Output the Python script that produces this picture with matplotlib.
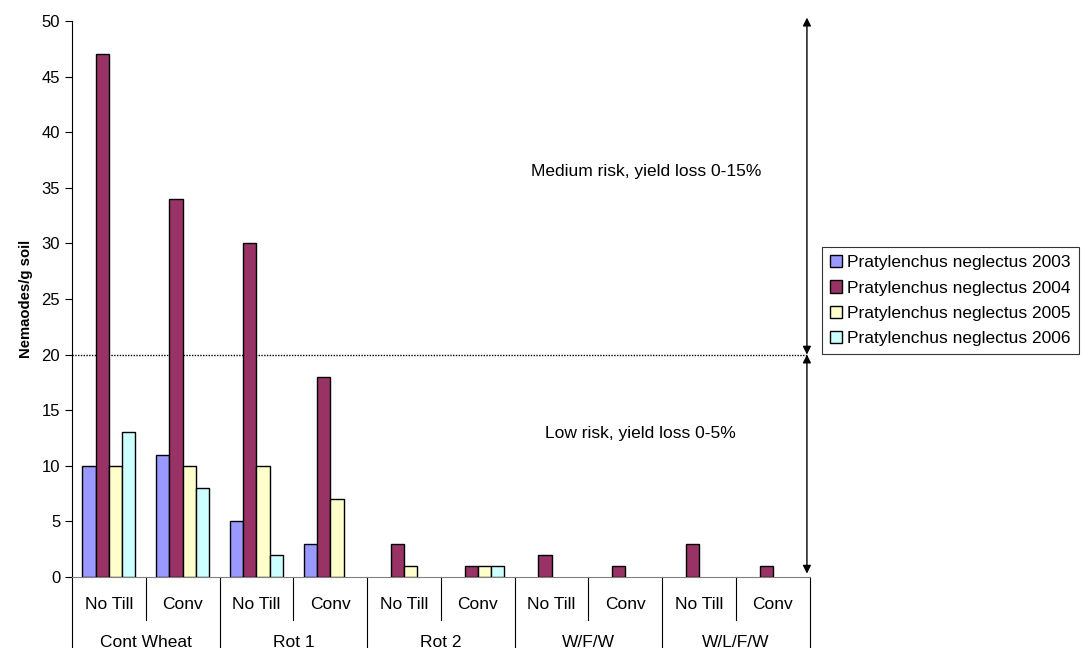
import numpy as np
import matplotlib.pyplot as plt
from matplotlib.transforms import blended_transform_factory

plt.rcParams['font.family'] = ['Liberation Sans', 'DejaVu Sans']

# nematode counts per tillage / rotation treatment
groups = ["Cont Wheat", "Rot 1", "Rot 2", "W/F/W", "W/L/F/W"]
tillage = ["No Till", "Conv"]
years = ["2003", "2004", "2005", "2006"]
pn_2003 = [10, 11, 5, 3, 0, 0, 0, 0, 0, 0]
pn_2004 = [47, 34, 30, 18, 3, 1, 2, 1, 3, 1]
pn_2005 = [10, 10, 10, 7, 1, 1, 0, 0, 0, 0]
pn_2006 = [13, 8, 2, 0, 0, 1, 0, 0, 0, 0]
series = [pn_2003, pn_2004, pn_2005, pn_2006]
colors = ["#9999FF", "#993366", "#FFFFCC", "#CCFFFF"]
threshold = 20

fig = plt.figure(figsize=(10.82, 6.48), dpi=100)
ax = fig.add_axes([0.0665, 0.1096, 0.682, 0.858])

n = len(pn_2004)
x = np.arange(n) + 0.5
w = 0.18
for i, (vals, c) in enumerate(zip(series, colors)):
    # zero counts get no bar outline
    h = np.array(vals, dtype=float)
    h[h == 0] = np.nan
    ax.bar(x + (i - 1.5) * w, h, w, color=c, edgecolor="black", linewidth=1.0,
           label="Pratylenchus neglectus " + years[i], zorder=3)

ax.set_xlim(0, n)
ax.set_ylim(0, 50)
ax.set_yticks(range(0, 51, 5))
ax.tick_params(axis="y", labelsize=12, length=5, direction="out")
ax.set_xticks([])
for s in ["top", "right"]:
    ax.spines[s].set_visible(False)
ax.spines["bottom"].set_color("#808080")
ax.set_ylabel("Nemaodes/g soil", fontsize=10.7, fontweight="bold", labelpad=6)

# two-row category axis
tr = blended_transform_factory(ax.transData, ax.transAxes)
for k in range(n + 1):
    depth = -0.15 if k % 2 == 0 else -0.077
    ax.plot([k, k], [0, depth], color="black", lw=0.8, transform=tr, clip_on=False)
for k in range(n):
    ax.text(k + 0.5, -0.049, tillage[k % 2], transform=tr, ha="center", va="center", fontsize=12.5)
for g, name in enumerate(groups):
    ax.text(2 * g + 1, -0.117, name, transform=tr, ha="center", va="center", fontsize=12.5)

# risk threshold and ranges
arrow_x = 9.96
ax.hlines(threshold, 0, arrow_x, colors="black", linestyles=(0, (1, 1)), lw=1.0, zorder=2)
arrow = dict(arrowstyle="<|-|>", color="black", lw=1.0, mutation_scale=12, shrinkA=0, shrinkB=0)
ax.annotate("", xy=(arrow_x, 50.3), xytext=(arrow_x, threshold), arrowprops=arrow, annotation_clip=False)
ax.annotate("", xy=(arrow_x, threshold), xytext=(arrow_x, 0.3), arrowprops=arrow, annotation_clip=False)
ax.text(7.78, 36.5, "Medium risk, yield loss 0-15%", ha="center", va="center", fontsize=12.5)
ax.text(7.70, 12.9, "Low risk, yield loss 0-5%", ha="center", va="center", fontsize=12.5)

leg = fig.legend(loc="center left", bbox_to_anchor=(0.760, 0.536), fontsize=12.5, frameon=True,
                 fancybox=False, edgecolor="black", handlelength=0.7, handleheight=0.7,
                 handletextpad=0.3, borderpad=0.45, labelspacing=0.58, borderaxespad=0)
leg.get_frame().set_linewidth(0.8)

fig.savefig("out.png", dpi=100)
